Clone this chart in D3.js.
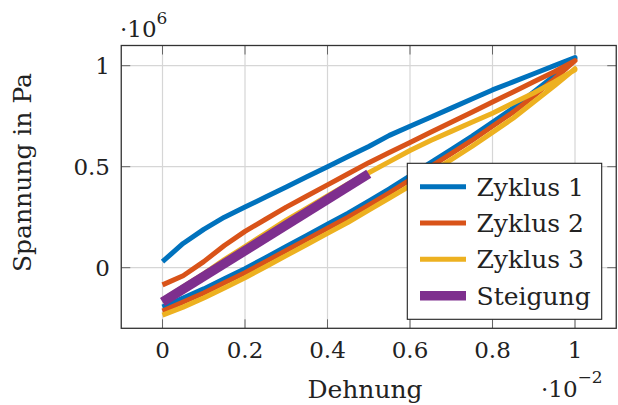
<!DOCTYPE html>
<html lang="de">
  <head>
    <meta charset="UTF-8" />
    <title>Spannung-Dehnung Hysterese</title>
    <script src="https://cdnjs.cloudflare.com/ajax/libs/d3/7.9.0/d3.min.js"></script>
    <style>
      html, body { margin: 0; padding: 0; background: #fff; }
      svg { display: block; }
      .grid line { stroke: #d6d6d6; stroke-width: 1.2; }
      .tick-mark { stroke: #666; stroke-width: 1; }
      .frame { fill: none; stroke: #333; stroke-width: 1.3; }
      .ticklabel { font-family: "DejaVu Serif", serif; font-size: 23px; fill: #222; }
      .label { font-family: "DejaVu Serif", serif; font-size: 25px; fill: #222; }
      path.curve { fill: none; stroke-linejoin: round; }
    </style>
  </head>
  <body>
    <svg id="chart" width="618" height="405"></svg>
    <script>
      /* ---------- data (Dehnung in 1e-2, Spannung in 1e6 Pa) ---------- */
      const strain = [0, 0.05, 0.1, 0.15, 0.2, 0.25, 0.3, 0.35, 0.4, 0.45, 0.5,
                      0.55, 0.6, 0.65, 0.7, 0.75, 0.8, 0.85, 0.9, 0.95, 1.0];

      // loading branch (lower) and unloading branch (upper), same strain grid
      const zyklus1Load   = [-0.195, -0.15, -0.105, -0.055, -0.005, 0.05, 0.105, 0.16, 0.215, 0.27, 0.33,
                             0.39, 0.455, 0.52, 0.585, 0.65, 0.72, 0.79, 0.87, 0.95, 1.035];
      const zyklus1Unload = [0.03, 0.12, 0.19, 0.25, 0.3, 0.35, 0.4, 0.45, 0.5, 0.55, 0.6,
                             0.655, 0.7, 0.745, 0.79, 0.835, 0.88, 0.92, 0.96, 1.0, 1.04];
      const zyklus2Load   = [-0.215, -0.17, -0.125, -0.075, -0.025, 0.03, 0.085, 0.14, 0.195, 0.25, 0.31,
                             0.37, 0.435, 0.5, 0.565, 0.63, 0.7, 0.77, 0.85, 0.935, 1.025];
      const zyklus2Unload = [-0.085, -0.04, 0.03, 0.11, 0.18, 0.24, 0.3, 0.355, 0.41, 0.465, 0.52,
                             0.57, 0.62, 0.67, 0.72, 0.77, 0.82, 0.87, 0.92, 0.97, 1.025];
      const zyklus3Load   = [-0.235, -0.195, -0.15, -0.1, -0.05, 0.005, 0.06, 0.115, 0.17, 0.225, 0.285,
                             0.345, 0.405, 0.47, 0.535, 0.6, 0.67, 0.74, 0.82, 0.9, 0.985];
      const zyklus3Unload = [-0.16, -0.095, -0.03, 0.04, 0.105, 0.17, 0.235, 0.295, 0.355, 0.415, 0.47,
                             0.525, 0.58, 0.63, 0.675, 0.72, 0.765, 0.815, 0.865, 0.92, 0.98];

      const steigungX = [0, 0.5];
      const steigungY = [-0.17, 0.465];

      const xTicks = [0, 0.2, 0.4, 0.6, 0.8, 1];
      const yTicks = [0, 0.5, 1];
      const seriesNames = ["Zyklus 1", "Zyklus 2", "Zyklus 3", "Steigung"];
      const seriesColors = ["#0072BD", "#D95319", "#EDB120", "#7E2F8E"];

      /* ---------- layout ---------- */
      const svg = d3.select("#chart");
      const plot = { left: 121.25, right: 616.25, top: 45.5, bottom: 328.3 };

      const x = d3.scaleLinear().domain([-0.1, 1.1]).range([plot.left, plot.right]);
      const y = d3.scaleLinear().domain([-0.3, 1.1]).range([plot.bottom, plot.top]);

      // grid
      const grid = svg.append("g").attr("class", "grid");
      grid.selectAll("line.gx").data(xTicks).join("line")
        .attr("x1", (d) => x(d)).attr("x2", (d) => x(d))
        .attr("y1", plot.top).attr("y2", plot.bottom);
      grid.selectAll("line.gy").data(yTicks).join("line")
        .attr("class", "gy")
        .attr("x1", plot.left).attr("x2", plot.right)
        .attr("y1", (d) => y(d)).attr("y2", (d) => y(d));

      // inward tick marks on all four sides
      const tl = 9;
      const ticks = svg.append("g");
      xTicks.forEach((t) => {
        ticks.append("line").attr("class", "tick-mark")
          .attr("x1", x(t)).attr("x2", x(t)).attr("y1", plot.bottom).attr("y2", plot.bottom - tl);
        ticks.append("line").attr("class", "tick-mark")
          .attr("x1", x(t)).attr("x2", x(t)).attr("y1", plot.top).attr("y2", plot.top + tl);
      });
      yTicks.forEach((t) => {
        ticks.append("line").attr("class", "tick-mark")
          .attr("x1", plot.left).attr("x2", plot.left + tl).attr("y1", y(t)).attr("y2", y(t));
        ticks.append("line").attr("class", "tick-mark")
          .attr("x1", plot.right).attr("x2", plot.right - tl).attr("y1", y(t)).attr("y2", y(t));
      });

      /* ---------- curves ---------- */
      const line = d3.line().x((d) => x(d[0])).y((d) => y(d[1]));
      const loop = (load, unload) => {
        const up = strain.map((s, i) => [s, load[i]]);
        const down = strain.map((s, i) => [s, unload[i]]).reverse();
        return up.concat(down);
      };
      const cycles = [
        loop(zyklus1Load, zyklus1Unload),
        loop(zyklus2Load, zyklus2Unload),
        loop(zyklus3Load, zyklus3Unload),
      ];
      const curves = svg.append("g");
      cycles.forEach((pts, i) => {
        curves.append("path").attr("class", "curve")
          .attr("d", line(pts))
          .attr("stroke", seriesColors[i])
          .attr("stroke-width", 5);
      });
      curves.append("path").attr("class", "curve")
        .attr("d", line(steigungX.map((s, i) => [s, steigungY[i]])))
        .attr("stroke", seriesColors[3])
        .attr("stroke-width", 9.5);

      // frame
      svg.append("rect").attr("class", "frame")
        .attr("x", plot.left).attr("y", plot.top)
        .attr("width", plot.right - plot.left).attr("height", plot.bottom - plot.top);

      /* ---------- tick labels ---------- */
      svg.append("g").selectAll("text").data(xTicks).join("text")
        .attr("class", "ticklabel")
        .attr("x", (d) => x(d)).attr("y", 357.5)
        .attr("text-anchor", "middle")
        .text((d) => d3.format("~g")(d));
      svg.append("g").selectAll("text").data(yTicks).join("text")
        .attr("class", "ticklabel")
        .attr("x", 110).attr("y", (d) => y(d) + 8.3)
        .attr("text-anchor", "end")
        .text((d) => d3.format("~g")(d));

      // scale factors
      const sf6 = svg.append("text").attr("class", "ticklabel").attr("x", 120).attr("y", 36.5);
      sf6.append("tspan").text("·10");
      sf6.append("tspan").attr("dy", -13).attr("font-size", 17).text("6");
      const sf2 = svg.append("text").attr("class", "ticklabel").attr("x", 541).attr("y", 397);
      sf2.append("tspan").text("·10");
      sf2.append("tspan").attr("dy", -14).attr("font-size", 17).text("−2");

      /* ---------- axis labels ---------- */
      svg.append("text").attr("class", "label")
        .attr("x", 365).attr("y", 397.5)
        .attr("text-anchor", "middle")
        .text("Dehnung");
      svg.append("text").attr("class", "label")
        .attr("transform", "translate(31,172.5) rotate(-90)")
        .attr("text-anchor", "middle")
        .text("Spannung in Pa");

      /* ---------- legend ---------- */
      const lg = svg.append("g");
      lg.append("rect")
        .attr("x", 407.3).attr("y", 163.3)
        .attr("width", 194.4).attr("height", 156)
        .attr("fill", "#fff").attr("stroke", "#222").attr("stroke-width", 1.1);
      const rowY = d3.scalePoint().domain(seriesNames).range([186.7, 295.7]);
      seriesNames.forEach((name, i) => {
        lg.append("line")
          .attr("x1", 420).attr("x2", 466)
          .attr("y1", rowY(name)).attr("y2", rowY(name))
          .attr("stroke", seriesColors[i])
          .attr("stroke-width", i === 3 ? 9.5 : 5);
        lg.append("text").attr("class", "label")
          .attr("x", 476.5).attr("y", rowY(name) + 9)
          .text(name);
      });
    </script>
  </body>
</html>
